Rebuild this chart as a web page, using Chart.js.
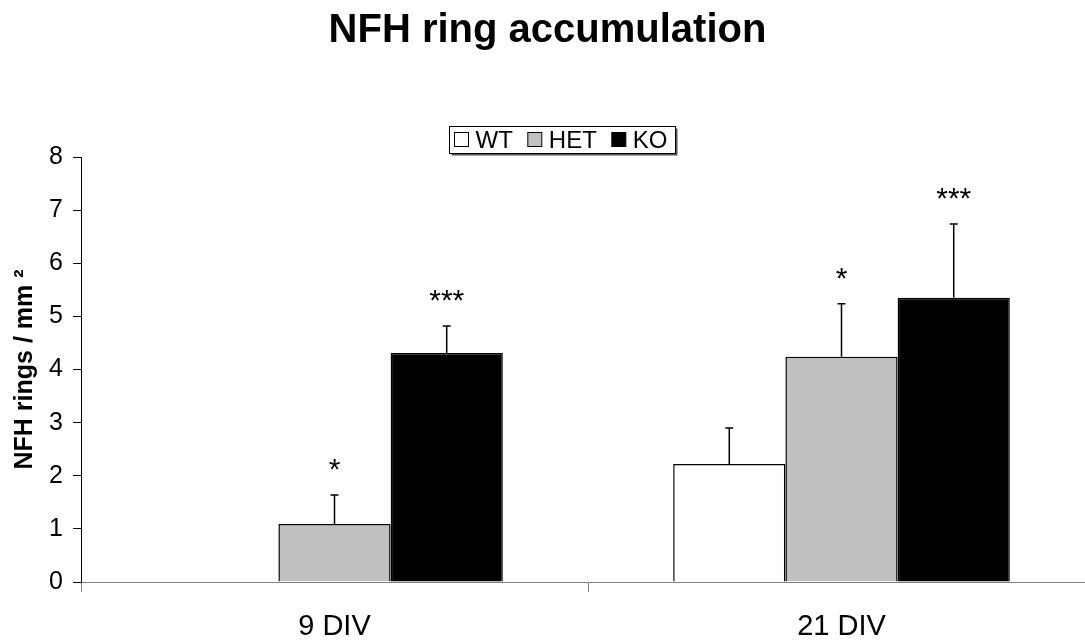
<!DOCTYPE html>
<html>
<head>
<meta charset="utf-8">
<script src="https://cdn.jsdelivr.net/npm/chart.js"></script>
<style>
  html, body { margin: 0; padding: 0; background: #fff; overflow: hidden; }
  #chart-wrapper { width: 1095px; height: 642px; }
</style>
</head>
<body>
<div id="chart-wrapper">
    <canvas id="my-chart"></canvas>
</div>
<script>
// values
const labels = ['9 DIV', '21 DIV'];
const wt = [0, 2.22];
const het = [1.09, 4.24];
const ko = [4.31, 5.35];
const wtErr = [0, 0.68];
const hetErr = [0.55, 1.00];
const koErr = [0.51, 1.39];
const wtSig = ['', ''];
const hetSig = ['*', '*'];
const koSig = ['***', '***'];

const FONT = "Arial, 'Liberation Sans', sans-serif";

// error bars (upward only) + significance stars
const errorBars = {
    id: 'errorBars',
    afterDatasetsDraw(chart) {
        const c = chart.ctx;
        const y = chart.scales.y;
        chart.data.datasets.forEach(function(ds, i) {
            const meta = chart.getDatasetMeta(i);
            meta.data.forEach(function(bar, j) {
                const err = ds.err[j];
                let top = y.getPixelForValue(ds.data[j] + err);
                c.save();
                if (err > 0) {
                    c.strokeStyle = '#000';
                    c.lineWidth = 1.5;
                    c.beginPath();
                    c.moveTo(bar.x, bar.y);
                    c.lineTo(bar.x, top);
                    c.moveTo(bar.x - 4, top);
                    c.lineTo(bar.x + 4, top);
                    c.stroke();
                }
                if (ds.sig[j]) {
                    c.fillStyle = '#000';
                    c.font = '30px ' + FONT;
                    c.textAlign = 'center';
                    c.textBaseline = 'alphabetic';
                    c.fillText(ds.sig[j], bar.x, top - 16);
                }
                c.restore();
            });
        });
    }
};

// boxed legend like the original
const boxLegend = {
    id: 'boxLegend',
    afterDraw(chart) {
        const c = chart.ctx;
        const sets = chart.data.datasets;
        c.save();
        c.font = '24px ' + FONT;
        c.textBaseline = 'alphabetic';
        let w = 5;
        sets.forEach(function(ds, i) {
            w += 15 + 6 + c.measureText(ds.label).width;
            if (i < sets.length - 1) w += 15;
        });
        w += 8;
        const left = Math.round(562 - w / 2) + 0.5;
        const top = 126.5, h = 27;
        // shadow
        c.fillStyle = '#555';
        c.fillRect(left + 2, top + 2, w, h);
        c.fillStyle = '#fff';
        c.fillRect(left, top, w, h);
        c.strokeStyle = '#000';
        c.lineWidth = 1;
        c.strokeRect(left, top, w, h);
        let x = left + 5;
        sets.forEach(function(ds) {
            c.fillStyle = ds.backgroundColor;
            c.fillRect(x, top + 6, 14, 14);
            c.strokeStyle = '#000';
            c.strokeRect(x, top + 6, 14, 14);
            x += 15 + 6;
            c.fillStyle = '#000';
            c.fillText(ds.label, x, top + 21);
            x += c.measureText(ds.label).width + 15;
        });
        c.restore();
    }
};

const ctx = document.getElementById('my-chart');

const chart = new Chart(ctx, {
    type: 'bar',
    data: {
        labels: labels,
        datasets: [
            { label: 'WT', data: wt, err: wtErr, sig: wtSig, backgroundColor: '#ffffff', borderColor: '#000', borderWidth: 1.5 },
            { label: 'HET', data: het, err: hetErr, sig: hetSig, backgroundColor: '#c0c0c0', borderColor: '#000', borderWidth: 1.5 },
            { label: 'KO', data: ko, err: koErr, sig: koSig, backgroundColor: '#000000', borderColor: '#000', borderWidth: 1.5 }
        ]
    },
    options: {
        responsive: true,
        maintainAspectRatio: false,
        animation: false,
        categoryPercentage: 0.664,
        barPercentage: 1.0,
        layout: { padding: 0 },
        plugins: {
            legend: { display: false },
            tooltip: { enabled: false },
            title: {
                display: true,
                text: 'NFH ring accumulation',
                color: '#000',
                font: { family: FONT, size: 40, weight: 'bold' },
                padding: { top: 7, bottom: 102 }
            }
        },
        scales: {
            x: {
                afterFit(scale) { scale.height = 60; },
                grid: { display: true, drawOnChartArea: false, offset: true, tickLength: 10, color: '#808080' },
                border: { color: '#808080', width: 1 },
                ticks: { color: '#000', font: { family: FONT, size: 29 }, padding: 18 }
            },
            y: {
                min: 0,
                max: 8,
                afterFit(scale) { scale.width = 81; },
                grid: { display: true, drawOnChartArea: false, tickLength: 8, color: '#000' },
                border: { color: '#000', width: 1 },
                ticks: { stepSize: 1, color: '#000', font: { family: FONT, size: 25 }, padding: 10 },
                title: {
                    display: true,
                    text: 'NFH rings / mm ²',
                    color: '#000',
                    font: { family: FONT, size: 25, weight: 'bold' },
                    padding: { top: 10, bottom: 0 }
                }
            }
        }
    },
    plugins: [errorBars, boxLegend]
});
</script>
</body>
</html>
